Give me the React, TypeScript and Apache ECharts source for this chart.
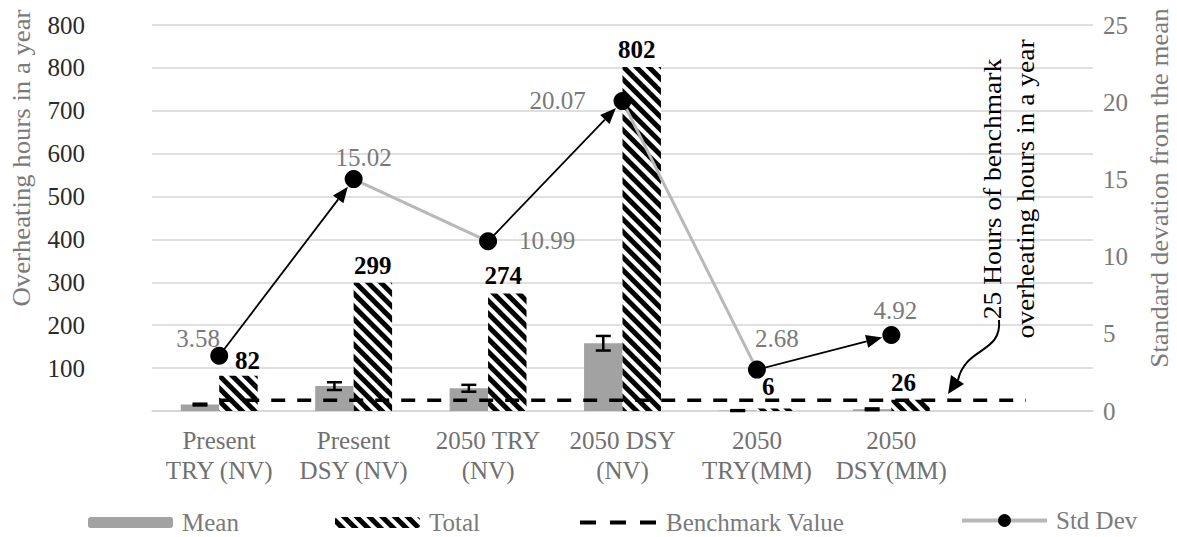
import React, { useEffect, useRef } from "react";
import * as echarts from "echarts";

// Scenario names on the category axis (the seventh slot is left empty)
const categories = [
  "Present\nTRY (NV)",
  "Present\nDSY (NV)",
  "2050 TRY\n(NV)",
  "2050 DSY\n(NV)",
  "2050\nTRY(MM)",
  "2050\nDSY(MM)",
  "",
];

// Overheating hours per year
const meanHours = [15, 58, 53, 158, 1, 4];
const meanError = [2, 9, 8, 17, 1, 2];
const totalHours = [82, 299, 274, 802, 6, 26];
const benchmarkHours = [25, 25, 25, 25, 25, 25, 25];

// Standard deviation from the mean (right axis)
const stdDev = [3.58, 15.02, 10.99, 20.07, 2.68, 4.92];

// Which std-dev points are joined by a plain grey segment and which by a black arrow
const greyLinks = [
  [1, 2],
  [3, 4],
];
const arrowLinks = [
  [0, 1],
  [2, 3],
  [4, 5],
];

// Left axis tick labels, bottom to top
const leftTickLabels = ["", "100", "200", "300", "400", "500", "600", "700", "800", "800"];

const FONT = "'Liberation Serif', 'Times New Roman', serif";
const FS = 25;
const BAR_RATIO = 0.286;

// Per-point label placement for the std-dev markers
const stdDevLabelOffsets = [
  [-21, 9],
  [10, 5],
  [59, 26],
  [-65, 26],
  [20, -5],
  [4, 2],
];
const totalLabelOffsets = [
  [9, 2],
  [0, 0],
  [-4, 0],
  [-5, 0],
  [-8, -4],
  [-7, 0],
];

export default function App() {
  const ref = useRef<HTMLDivElement>(null);

  useEffect(() => {
    if (!ref.current) return;
    const chart = echarts.init(ref.current, null, { renderer: "svg" });

    const legendText = {
      fontFamily: FONT,
      fontSize: FS,
      color: "#7a7a7a",
      padding: [0, 0, 0, 4],
    };

    const linkData = [
      ...greyLinks.map(([i, j]) => [i, stdDev[i], j, stdDev[j], 0]),
      ...arrowLinks.map(([i, j]) => [i, stdDev[i], j, stdDev[j], 1]),
    ];

    const option: any = {
      animation: false,
      backgroundColor: "#ffffff",
      textStyle: { fontFamily: FONT },
      grid: { left: 152, right: 84, top: 25, bottom: 126 },
      legend: [
        {
          data: ["Mean"],
          left: 83,
          top: 505,
          itemWidth: 85,
          itemHeight: 11,
          textStyle: legendText,
        },
        {
          data: ["Total"],
          left: 330,
          top: 505,
          itemWidth: 85,
          itemHeight: 11,
          textStyle: legendText,
        },
        {
          data: [
            {
              name: "Benchmark Value",
              lineStyle: { type: [16, 14], width: 4 },
              itemStyle: { opacity: 0 },
            },
          ],
          left: 573,
          top: 505,
          itemWidth: 77,
          itemHeight: 11,
          textStyle: legendText,
        },
        {
          data: [
            {
              name: "Std Dev",
              lineStyle: { opacity: 1, color: "#b8b8b8", width: 4 },
            },
          ],
          left: 955,
          top: 503,
          itemWidth: 85,
          itemHeight: 16,
          textStyle: legendText,
        },
      ],
      xAxis: {
        type: "category",
        data: categories,
        axisLine: { lineStyle: { color: "#d4d4d4", width: 1.5 } },
        axisTick: { show: false },
        axisLabel: {
          interval: 0,
          fontFamily: FONT,
          fontSize: FS,
          lineHeight: 30,
          color: "#707070",
          margin: 14,
        },
      },
      yAxis: [
        {
          type: "value",
          min: 0,
          max: 900,
          interval: 100,
          axisLine: { show: false },
          axisTick: { show: false },
          splitLine: { lineStyle: { color: "#d4d4d4", width: 1.5 } },
          axisLabel: {
            margin: 67,
            align: "right",
            fontFamily: FONT,
            fontSize: FS,
            color: "#2a2a2a",
            formatter: (v: number) => leftTickLabels[Math.round(v / 100)] ?? "",
          },
        },
        {
          type: "value",
          min: 0,
          max: 25,
          interval: 5,
          axisLine: { show: false },
          axisTick: { show: false },
          splitLine: { show: false },
          axisLabel: {
            margin: 10,
            fontFamily: FONT,
            fontSize: FS,
            color: "#7a7a7a",
          },
        },
      ],
      series: [
        {
          name: "Mean",
          type: "bar",
          data: meanHours,
          barWidth: `${BAR_RATIO * 100}%`,
          barGap: "0%",
          itemStyle: { color: "#a2a2a2" },
          z: 2,
        },
        {
          name: "Total",
          type: "bar",
          data: totalHours.map((v, i) => ({
            value: v,
            label: { offset: totalLabelOffsets[i] },
          })),
          barWidth: `${BAR_RATIO * 100}%`,
          barGap: "0%",
          itemStyle: {
            color: "#ffffff",
            decal: {
              symbol: "rect",
              symbolSize: 1,
              color: "#000000",
              backgroundColor: "#ffffff",
              dashArrayX: [1, 0],
              dashArrayY: [5, 4],
              rotation: Math.PI / 4,
            },
          },
          label: {
            show: true,
            position: "top",
            distance: 5,
            fontFamily: FONT,
            fontSize: FS,
            fontWeight: "bold",
            color: "#000000",
          },
          z: 2,
        },
        {
          name: "Benchmark Value",
          type: "line",
          data: benchmarkHours,
          symbol: "none",
          lineStyle: { color: "#000000", width: 3.5, type: [14, 12] },
          z: 3,
        },
        {
          name: "Mean error",
          type: "custom",
          data: meanHours.map((m, i) => [i, m, meanError[i]]),
          encode: { x: 0, y: 1 },
          z: 4,
          silent: true,
          renderItem: (_params: any, api: any) => {
            const i = api.value(0);
            const m = api.value(1);
            const e = api.value(2);
            const bw = api.size([1, 0])[0] * BAR_RATIO;
            const x = api.coord([i, m])[0] - bw / 2;
            const yHi = api.coord([i, m + e])[1];
            const yLo = api.coord([i, Math.max(0, m - e)])[1];
            const cap = 7.5;
            const style = { stroke: "#000000", lineWidth: 2.5 };
            return {
              type: "group",
              children: [
                { type: "line", shape: { x1: x, y1: yHi, x2: x, y2: yLo }, style },
                { type: "line", shape: { x1: x - cap, y1: yHi, x2: x + cap, y2: yHi }, style },
                { type: "line", shape: { x1: x - cap, y1: yLo, x2: x + cap, y2: yLo }, style },
              ],
            };
          },
        },
        {
          name: "Std Dev links",
          type: "custom",
          yAxisIndex: 1,
          data: linkData,
          encode: { x: [0, 2], y: [1, 3] },
          z: 5,
          silent: true,
          renderItem: (_params: any, api: any) => {
            const a = api.coord([api.value(0), api.value(1)]);
            const b = api.coord([api.value(2), api.value(3)]);
            const kind = api.value(4);
            if (kind === 0) {
              return {
                type: "line",
                shape: { x1: a[0], y1: a[1], x2: b[0], y2: b[1] },
                style: { stroke: "#b8b8b8", lineWidth: 3 },
              };
            }
            const dx = b[0] - a[0];
            const dy = b[1] - a[1];
            const len = Math.sqrt(dx * dx + dy * dy);
            const ux = dx / len;
            const uy = dy / len;
            const tip = [b[0] - ux * 9.5, b[1] - uy * 9.5];
            const base = [tip[0] - ux * 16, tip[1] - uy * 16];
            const px = -uy * 6.5;
            const py = ux * 6.5;
            return {
              type: "group",
              children: [
                {
                  type: "line",
                  shape: { x1: a[0], y1: a[1], x2: base[0], y2: base[1] },
                  style: { stroke: "#000000", lineWidth: 1.8 },
                },
                {
                  type: "polygon",
                  shape: {
                    points: [
                      tip,
                      [base[0] + px, base[1] + py],
                      [base[0] - px, base[1] - py],
                    ],
                  },
                  style: { fill: "#000000" },
                },
              ],
            };
          },
        },
        {
          name: "Std Dev",
          type: "line",
          yAxisIndex: 1,
          data: stdDev.map((v, i) => ({
            value: v,
            label: { offset: stdDevLabelOffsets[i] },
          })),
          symbol: "circle",
          symbolSize: 18,
          itemStyle: { color: "#000000" },
          lineStyle: { opacity: 0, color: "#b8b8b8", width: 3 },
          label: {
            show: true,
            position: "top",
            distance: 5,
            fontFamily: FONT,
            fontSize: FS,
            color: "#7a7a7a",
          },
          z: 6,
        },
      ],
      graphic: [
        {
          type: "text",
          x: 22,
          y: 158,
          rotation: Math.PI / 2,
          scaleX: 1.07,
          style: {
            text: "Overheating hours in a year",
            fontFamily: FONT,
            fontSize: FS,
            fill: "#7a7a7a",
            align: "center",
            verticalAlign: "middle",
          },
        },
        {
          type: "text",
          x: 1160,
          y: 188,
          rotation: Math.PI / 2,
          scaleX: 1.08,
          style: {
            text: "Standard devation from the mean",
            fontFamily: FONT,
            fontSize: FS,
            fill: "#7a7a7a",
            align: "center",
            verticalAlign: "middle",
          },
        },
        {
          type: "text",
          x: 1009,
          y: 189,
          rotation: Math.PI / 2,
          scaleX: 1.1,
          z: 10,
          style: {
            text: "25 Hours of benchmark\noverheating hours in a year",
            fontFamily: FONT,
            fontSize: FS,
            lineHeight: 33,
            fill: "#000000",
            align: "center",
            verticalAlign: "middle",
          },
        },
        {
          type: "bezierCurve",
          z: 10,
          shape: {
            x1: 999,
            y1: 320,
            cpx1: 1002,
            cpy1: 354,
            cpx2: 966,
            cpy2: 346,
            x2: 958,
            y2: 380,
          },
          style: { stroke: "#000000", lineWidth: 2, fill: null },
        },
        {
          type: "polygon",
          z: 10,
          shape: {
            points: [
              [948, 394],
              [964, 384],
              [951, 375],
            ],
          },
          style: { fill: "#000000" },
        },
      ],
    };

    chart.setOption(option);
    return () => chart.dispose();
  }, []);

  return (
    <div
      ref={ref}
      style={{ position: "fixed", left: 0, top: 0, width: 1177, height: 537, background: "#fff" }}
    />
  );
}
